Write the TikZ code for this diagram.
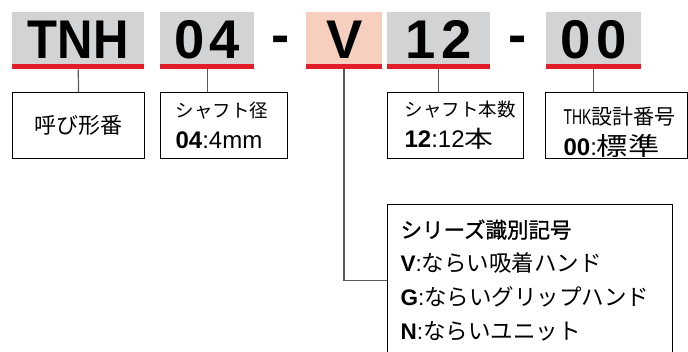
\documentclass[tikz,border=0pt]{standalone}
\usepackage{fontspec}
\setmainfont{Liberation Sans}
\newfontfamily\codecond[FakeStretch=0.9]{Liberation Sans}
\newfontfamily\latcond[FakeStretch=0.65]{Liberation Sans}
\newfontfamily\jp{Noto Sans CJK JP}
\newfontfamily\jpmid[FakeBold=1.2]{Noto Sans CJK JP}
\newfontfamily\jpwide[FakeStretch=1.25]{Noto Sans CJK JP}
\usetikzlibrary{positioning}

\definecolor{codegray}{RGB}{209,211,212}
\definecolor{codesalmon}{RGB}{247,207,190}
\definecolor{barred}{RGB}{225,30,40}
\definecolor{wiregray}{RGB}{90,90,90}
\newcommand{\lat}[1]{{\rmfamily #1}}
\newcommand{\latb}[1]{{\rmfamily\bfseries #1}}
\newcommand{\valsize}{\fontsize{24}{31}\selectfont}

\begin{document}
\begin{tikzpicture}[x=1pt, y=-1pt,
  code/.style={rectangle, fill=#1, anchor=north west, inner xsep=0pt, inner ysep=0pt,
               text height=46pt, text depth=5.5pt,
               font=\fontsize{54.5}{54.5}\selectfont\bfseries},
  sep/.style={anchor=base, inner sep=0pt, font=\fontsize{54.5}{54.5}\selectfont\bfseries},
  info/.style={rectangle, draw=black, line width=1.2pt, anchor=north west,
               inner ysep=0pt, align=left, font=\jp\fontsize{18.5}{31}\selectfont},
  wire/.style={draw=wiregray, line width=1.2pt}
]
\useasboundingbox (0,0) rectangle (688,352);
% ── code blocks ──────────────────────────────────────────────────────────────
\node[code=codegray,   minimum width=132pt] (tnh)    at (12,12)  {\codecond TNH};
\node[code=codegray,   minimum width=94pt]  (dia)    at (160,12) {0\hspace{5pt}4};
\node[sep] (dashA) at (280.5,54) {-};
\node[code=codesalmon, minimum width=76pt]  (kind)   at (306,12) {V};
\node[code=codegray,   minimum width=103pt] (count)  at (387,12) {1\hspace{5pt}2};
\node[sep] (dashB) at (517.5,54) {-};
\node[code=codegray,   minimum width=95pt]  (design) at (546,12) {0\hspace{5pt}0};
\foreach \n in {tnh,dia,kind,count,design}
  \fill[barred] (\n.south west) rectangle ([yshift=-5.5pt]\n.south east);

% ── explanation boxes ────────────────────────────────────────────────────────
\node[info, minimum width=132pt, minimum height=66pt, align=center, inner xsep=0pt,
      font=\jp\fontsize{22}{31}\selectfont] (tnhinfo) at (12,92) {呼び形番};
\node[info, minimum height=66pt, text width=97pt, inner xsep=15pt] (diainfo) at (160,92)
  {シャフト径\\{\valsize\latb{04}\lat{:4mm}}};
\node[info, minimum height=66pt, text width=102pt, inner xsep=17pt] (countinfo) at (387,92)
  {シャフト本数\\{\valsize\latb{12}\lat{:12}{\jpwide\fontsize{23}{31}\selectfont 本}}};
\node[info, minimum height=66pt, text width=106pt, inner xsep=18pt] (designinfo) at (545,92)
  {{\latcond\fontsize{21.5}{31}\selectfont\hspace{3pt}THK}{\fontsize{21}{31}\selectfont 設計番号}\\
   {\valsize\latb{00}\lat{:}{\jpwide\fontsize{25}{31}\selectfont 標準}}};
\node[info, minimum height=152pt, text width=259pt, inner xsep=13pt,
      font=\jp\fontsize{22.5}{34}\selectfont] (kindinfo) at (387,204)
  {{\jpmid\fontsize{21.5}{34}\selectfont シリーズ識別記号}\\
   \latb{V}\lat{:}ならい吸着ハンド\\
   \latb{G}\lat{:}ならいグリップハンド\\
   \latb{N}\lat{:}ならいユニット};

% ── connectors ───────────────────────────────────────────────────────────────
\draw[wire] ([yshift=-5.5pt]tnh.south) -- (tnhinfo.north);
\draw[wire] ([yshift=-5.5pt]dia.south) -- (dia.south |- diainfo.north);
\draw[wire] ([yshift=-5.5pt]count.south) -- (count.south |- countinfo.north);
\draw[wire] ([yshift=-5.5pt]design.south) -- (design.south |- designinfo.north);
\draw[wire, line width=1.8pt] ([yshift=-5.5pt]kind.south) |- (kindinfo.west);
\end{tikzpicture}
\end{document}
